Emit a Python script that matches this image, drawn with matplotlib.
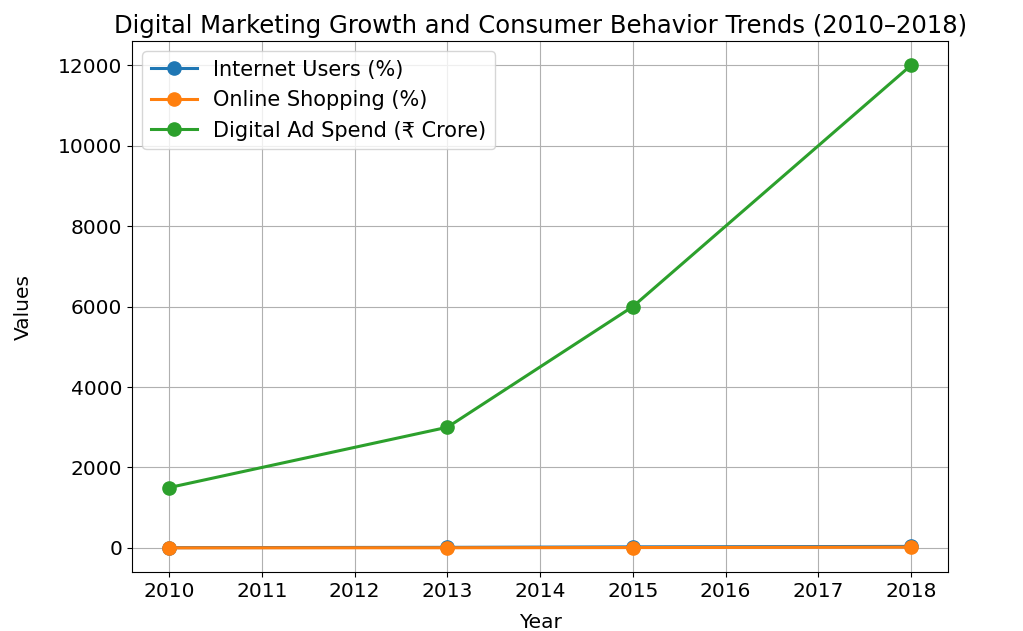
import matplotlib
matplotlib.use("Agg")
import matplotlib.pyplot as plt

years = [2010, 2013, 2015, 2018]
internet_users = [7.5, 15, 27, 38]
online_shopping = [2, 5, 10, 20]
ad_spend = [1500, 3000, 6000, 12000]
labels = ["Internet Users (%)", "Online Shopping (%)", "Digital Ad Spend (₹ Crore)"]

plt.rcParams['font.family'] = ['DejaVu Sans', 'Noto Sans']
fig = plt.figure(figsize=(10.23, 6.31), dpi=100)
ax = fig.add_axes([0.129, 0.0935, 0.798, 0.8415])
ax.plot(years, internet_users, marker='o', markersize=9.5, linewidth=2.2, label=labels[0])
ax.plot(years, online_shopping, marker='o', markersize=9.5, linewidth=2.2, label=labels[1])
ax.plot(years, ad_spend, marker='o', markersize=9.5, linewidth=2.2, label=labels[2])
ax.set_title("Digital Marketing Growth and Consumer Behavior Trends (2010–2018)", fontsize=17.5)
ax.set_xlabel("Year", fontsize=14.5, labelpad=9)
ax.set_ylabel("Values", fontsize=14.5, labelpad=18)
ax.tick_params(labelsize=14.5)
ax.grid(True)
ax.legend(fontsize=15, loc='upper left', handlelength=2.2)
fig.savefig("out.png", dpi=100)
